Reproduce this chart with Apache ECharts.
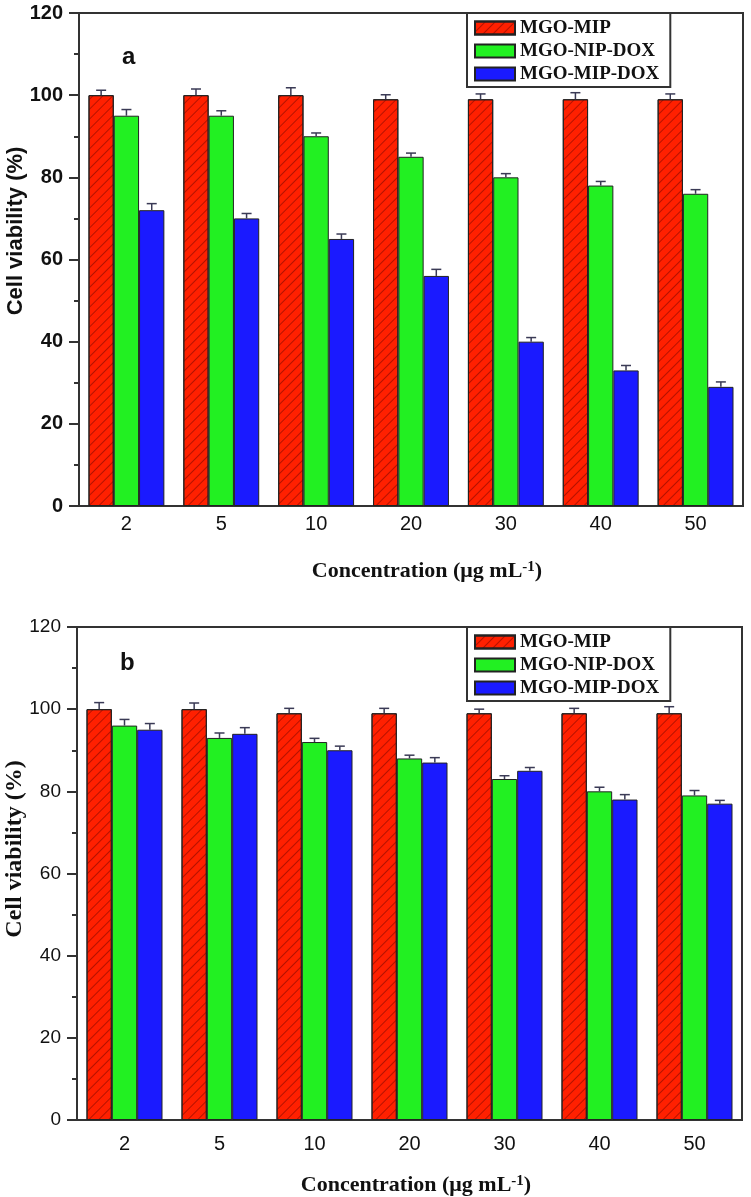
<!DOCTYPE html>
<html>
<head>
<meta charset="UTF-8">
<title>Cell viability</title>
<script src="https://cdn.jsdelivr.net/npm/echarts@6/dist/echarts.min.js"></script>
<style>
  html, body { margin: 0; padding: 0; background: #fff; }
</style>
</head>
<body>
<div id="main" style="width: 751px; height: 1197px;"></div>
<script type="text/javascript">
// concentrations (µg/mL)
var cats = ['2', '5', '10', '20', '30', '40', '50'];
var names = ['MGO-MIP', 'MGO-NIP-DOX', 'MGO-MIP-DOX'];

// panel a
var aMip    = [100, 100, 100, 99, 99, 99, 99];
var aNipDox = [95, 95, 90, 85, 80, 78, 76];
var aMipDox = [72, 70, 65, 56, 40, 33, 29];
var aMipErr    = [1.2, 1.5, 1.8, 1.1, 1.3, 1.6, 1.3];
var aNipDoxErr = [1.5, 1.2, 0.8, 0.9, 0.9, 1.0, 1.0];
var aMipDoxErr = [1.6, 1.2, 1.2, 1.6, 1.0, 1.2, 1.2];

// panel b
var bMip    = [100, 100, 99, 99, 99, 99, 99];
var bNipDox = [96, 93, 92, 88, 83, 80, 79];
var bMipDox = [95, 94, 90, 87, 85, 78, 77];
var bMipErr    = [1.6, 1.5, 1.2, 1.2, 1.0, 1.2, 1.6];
var bNipDoxErr = [1.5, 1.2, 0.9, 0.8, 0.8, 1.0, 1.2];
var bMipDoxErr = [1.5, 1.5, 1.0, 1.2, 0.8, 1.2, 0.8];

var yTicks = [0, 20, 40, 60, 80, 100, 120];

var colors = ['#ff2000', '#22f022', '#1a1aff'];
var axisColor = '#333';
var sans = 'Liberation Sans, Arial, sans-serif';
var serif = 'Liberation Serif, Times New Roman, serif';

var hatch = {
  symbol: 'rect',
  symbolSize: 1,
  dashArrayX: [1, 0],
  dashArrayY: [1, 6],
  rotation: -Math.PI / 4,
  color: 'rgba(90,0,0,0.45)'
};

function errRender(slot) {
  return function (params, api) {
    var x = api.value(0), v = api.value(1), e = api.value(2);
    var band = api.size([1, 0])[0];
    var bw = band * 0.8 / 3;
    var p0 = api.coord([x, v]);
    var p1 = api.coord([x, v + e]);
    var cx = p0[0] + (slot - 1) * bw;
    var st = { stroke: '#3a3a55', lineWidth: 1.5 };
    return {
      type: 'group',
      children: [
        { type: 'line', shape: { x1: cx, y1: p0[1], x2: cx, y2: p1[1] }, style: st },
        { type: 'line', shape: { x1: cx - 5, y1: p1[1], x2: cx + 5, y2: p1[1] }, style: st }
      ]
    };
  };
}

function barSeries(idx, gi, vals) {
  return {
    name: names[idx],
    type: 'bar',
    xAxisIndex: gi,
    yAxisIndex: gi,
    data: vals,
    barGap: '0%',
    barCategoryGap: '20%',
    itemStyle: {
      color: colors[idx],
      borderColor: '#222',
      borderWidth: 1,
      decal: idx === 0 ? hatch : null
    },
    z: 2
  };
}

function errSeries(idx, gi, vals, errs) {
  return {
    type: 'custom',
    xAxisIndex: gi,
    yAxisIndex: gi,
    renderItem: errRender(idx),
    data: vals.map(function (v, i) { return [i, v, errs[i]]; }),
    z: 5,
    silent: true
  };
}

function xAxis(gi, margin, padLeft) {
  return {
    type: 'category',
    gridIndex: gi,
    data: cats,
    axisLine: { lineStyle: { color: axisColor, width: 2 } },
    axisTick: { alignWithLabel: true, length: 7, lineStyle: { color: axisColor, width: 2 } },
    axisLabel: { fontFamily: sans, fontSize: 20, color: '#111', margin: margin },
    name: 'Concentration (μg mL{sup|-1})',
    nameLocation: 'middle',
    nameGap: 54,
    nameTextStyle: {
      fontFamily: serif, fontWeight: 'bold', fontSize: 22, color: '#111',
      padding: [0, 0, 0, padLeft],
      rich: {
        sup: { fontFamily: serif, fontWeight: 'bold', fontSize: 15, verticalAlign: 'top', lineHeight: 14 }
      }
    }
  };
}

function yAxis(gi, labelBold) {
  return {
    type: 'value',
    gridIndex: gi,
    min: 0,
    max: 120,
    interval: 20,
    axisLine: { show: true, lineStyle: { color: axisColor, width: 2 } },
    axisTick: { show: true, length: 10, lineStyle: { color: axisColor, width: 2 } },
    minorTick: { show: true, splitNumber: 2, length: 5, lineStyle: { color: axisColor, width: 2 } },
    splitLine: { show: false },
    axisLabel: {
      fontFamily: sans, fontWeight: labelBold ? 'bold' : 'normal',
      fontSize: labelBold ? 20 : 19, color: '#111', margin: 16,
      formatter: function (v) { return yTicks.indexOf(v) >= 0 ? String(v) : ''; }
    }
  };
}

function yTitle(x, y, font, size) {
  return {
    type: 'text', x: x, y: y, rotation: Math.PI / 2,
    style: {
      text: 'Cell viability (%)', fontFamily: font, fontWeight: 'bold', fontSize: size,
      fill: '#111', align: 'center', verticalAlign: 'middle'
    }
  };
}

function legend(top) {
  return {
    data: names,
    orient: 'vertical',
    left: 467,
    top: top,
    itemWidth: 40,
    itemHeight: 13,
    itemGap: 3,
    padding: [5, 11, 3, 7],
    borderColor: axisColor,
    borderWidth: 2,
    backgroundColor: '#fff',
    icon: 'rect',
    selectedMode: false,
    textStyle: { fontFamily: serif, fontWeight: 'bold', fontSize: 19, color: '#111', lineHeight: 20 }
  };
}

var myChart = echarts.init(document.getElementById('main'));
var option = {
  animation: false,
  backgroundColor: '#fff',
  grid: [
    { left: 79, top: 13, width: 664, height: 493, outerBoundsMode: 'none', show: true, borderColor: axisColor, borderWidth: 2 },
    { left: 77, top: 627, width: 665, height: 493, outerBoundsMode: 'none', show: true, borderColor: axisColor, borderWidth: 2 }
  ],
  xAxis: [xAxis(0, 8, 32), xAxis(1, 14, 13)],
  yAxis: [yAxis(0, true), yAxis(1, false)],
  legend: [legend(13), legend(627)],
  graphic: [
    yTitle(16, 231, sans, 22),
    yTitle(15, 849, serif, 24),
    { type: 'text', left: 122, top: 45, style: { text: 'a', fontFamily: sans, fontWeight: 'bold', fontSize: 24, fill: '#111' } },
    { type: 'text', left: 120, top: 651, style: { text: 'b', fontFamily: sans, fontWeight: 'bold', fontSize: 24, fill: '#111' } }
  ],
  series: [
    barSeries(0, 0, aMip), barSeries(1, 0, aNipDox), barSeries(2, 0, aMipDox),
    errSeries(0, 0, aMip, aMipErr), errSeries(1, 0, aNipDox, aNipDoxErr), errSeries(2, 0, aMipDox, aMipDoxErr),
    barSeries(0, 1, bMip), barSeries(1, 1, bNipDox), barSeries(2, 1, bMipDox),
    errSeries(0, 1, bMip, bMipErr), errSeries(1, 1, bNipDox, bNipDoxErr), errSeries(2, 1, bMipDox, bMipDoxErr)
  ]
};
myChart.setOption(option);
</script>
</body>
</html>
